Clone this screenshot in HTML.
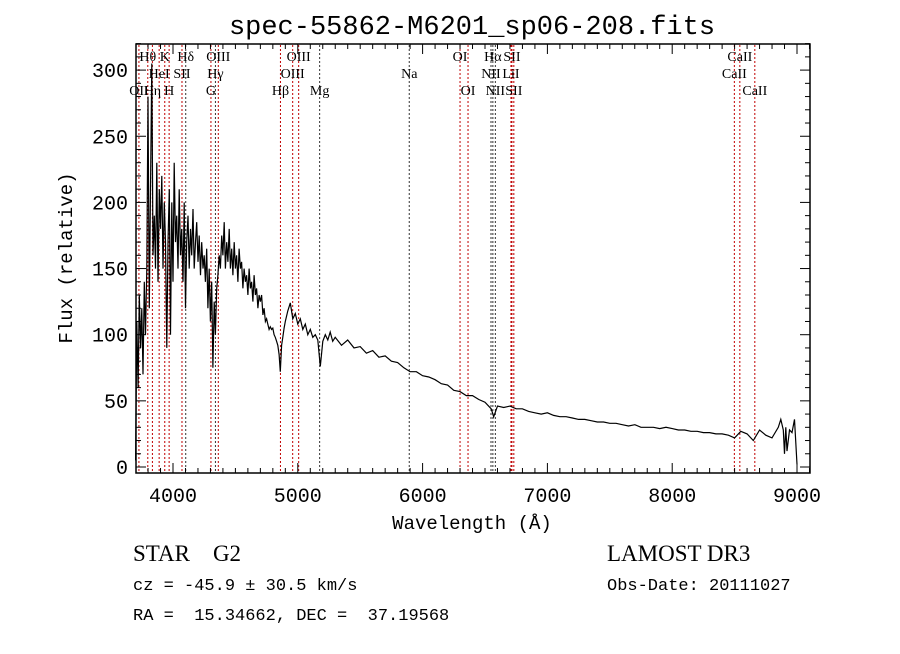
<!DOCTYPE html>
<html><head><meta charset="utf-8">
<style>
body{margin:0;background:#fff;}
svg text{font-family:"Liberation Mono",monospace;fill:#000;white-space:pre;}
.lbl{font-family:"Liberation Serif",serif;font-size:14px;}
</style></head>
<body>
<svg id="chart" width="900" height="649" viewBox="0 0 900 649" xmlns="http://www.w3.org/2000/svg" xml:space="preserve">
<rect width="900" height="649" fill="#fff"/>
<text x="472" y="34" font-size="27" text-anchor="middle">spec-55862-M6201_sp06-208.fits</text>
<g id="lines"></g>
<g id="labels"></g>
<path id="spec" fill="none" stroke="#000" stroke-width="1.2"/>
<rect x="136" y="44" width="674" height="429" fill="none" stroke="#000" stroke-width="1.5"/>
<g id="axes"></g>
<text x="472" y="529" font-size="19" text-anchor="middle">Wavelength (Å)</text>
<text transform="translate(72,258) rotate(-90)" font-size="19" text-anchor="middle">Flux (relative)</text>
<text x="133" y="561" font-size="23" style="font-family:'Liberation Serif',serif">STAR    G2</text>
<text x="607" y="561" font-size="23" style="font-family:'Liberation Serif',serif">LAMOST DR3</text>
<text x="133" y="590" font-size="17">cz = -45.9 ± 30.5 km/s</text>
<text x="607" y="590" font-size="17">Obs-Date: 20111027</text>
<text x="133" y="620" font-size="17">RA =  15.34662, DEC =  37.19568</text>
</svg>
<script>
const waves=[3700,3710,3720,3730,3740,3750,3760,3770,3780,3790,
3800,3810,3820,3830,3840,3850,3860,3870,3880,3890,
3900,3910,3920,3930,3940,3950,3960,3970,3980,3990,
4000,4010,4020,4030,4040,4050,4060,4070,4080,4090,
4100,4110,4120,4130,4140,4150,4160,4170,4180,4190,
4200,4210,4220,4230,4240,4250,4260,4270,4280,4290,
4300,4310,4320,4330,4340,4350,4360,4370,4380,4390,
4400,4410,4420,4430,4440,4450,4460,4470,4480,4490,
4500,4510,4520,4530,4540,4550,4560,4570,4580,4590,
4600,4610,4620,4630,4640,4650,4660,4670,4680,4690,
4700,4710,4720,4730,4740,4750,4760,4770,4780,4790,
4800,4810,4820,4830,4840,4850,4860,4870,4880,4890,
4900,4920,4940,4960,4980,5000,5020,5040,5060,5080,5100,5120,5140,5160,5180,5200,5220,5240,5260,5280,5300,
5350,5400,5450,5500,5550,5600,5650,5700,5750,5800,5850,5900,5950,6000,6050,6100,6150,6200,6250,6300,6350,6400,6450,6500,6550,6570,6600,6650,6700,6750,6800,6850,6900,6950,7000,7050,7100,7150,7200,7250,7300,7350,7400,7450,7500,7550,7600,7650,7700,7750,7800,7850,7900,7950,8000,8050,8100,8150,8200,8250,8300,8350,8400,8450,8500,8550,8600,8650,8700,8750,8800,8850,8870,8890,8900,8910,8920,8940,8960,8980,9000];
const fluxes=[5,110,60,130,90,120,70,140,100,150,
280,120,210,305,160,190,150,230,140,210,
180,220,150,200,170,90,170,210,100,200,
140,230,170,190,150,210,160,180,140,200,
120,170,190,150,180,160,195,150,170,185,
155,175,145,170,150,160,140,165,120,150,
110,140,75,125,100,135,145,160,150,175,
160,185,150,170,155,180,150,165,145,170,
150,160,140,165,150,155,135,150,140,145,
130,150,135,140,125,145,130,135,120,130,
125,130,115,120,110,112,108,104,106,104,
105,100,98,95,92,85,72,92,98,105,
110,118,124,112,116,108,112,104,108,100,104,98,100,96,76,95,100,96,102,95,98,
92,96,90,91,86,88,83,84,80,79,75,72,72,69,68,66,63,62,58,57,54,54,51,49,44,38,46,45,46,44,44,42,41,40,41,39,38,38,37,36,36,35,34,34,33,33,32,31,32,30,30,30,29,30,29,28,28,27,27,26,26,25,25,24,22,27,25,20,28,24,22,30,36,28,10,30,12,28,26,36,2];
const xTicks=[4000,5000,6000,7000,8000,9000];
const yTicks=[0,50,100,150,200,250,300];
const lineWaves=[3727,3798,3835,3889,3934,3969,4072,4102,4304,4340,4363,4861,4959,5007,5175,5893,6300,6364,6548,6563,6583,6708,6716,6731,8498,8542,8662];
const lineNames=["OII","Hθ","Hη","HeI","K","H","SII","Hδ","G","Hγ","OIII","Hβ","OIII","OIII","Mg","Na","OI","OI","NII","Hα","NII","LiI","SII","SII","CaII","CaII","CaII"];
const lineRows=[2,0,2,1,0,2,1,0,2,1,0,2,1,0,2,1,0,2,1,0,2,1,0,2,1,0,2];
const lineBlack=[0,0,0,0,0,0,0,1,0,1,0,0,0,0,1,1,0,0,1,1,1,0,0,0,0,0,0];

const X=w=>173+(w-4000)*0.1248;
const Y=v=>467-v*1.323;
const NS="http://www.w3.org/2000/svg";
const clamp=y=>Math.max(44,Math.min(473,y));

let d="";
for(let i=0;i<waves.length;i++){d+=(i?"L":"M")+X(waves[i]).toFixed(1)+","+clamp(Y(fluxes[i])).toFixed(1);}
document.getElementById("spec").setAttribute("d",d);

const lg=document.getElementById("lines"),lb=document.getElementById("labels");
const rowY=[61,78,95];
for(let i=0;i<lineWaves.length;i++){
  const l=document.createElementNS(NS,"line");
  
  
  const x=X(lineWaves[i]);
  l.setAttribute("x1",x);l.setAttribute("x2",x);l.setAttribute("y1",45);l.setAttribute("y2",472);
  l.setAttribute("stroke",lineBlack[i]?"#333":"#c00000");l.setAttribute("stroke-width","1");l.setAttribute("stroke-dasharray","2,2");
  lg.appendChild(l);
  const t=document.createElementNS(NS,"text");
  
  
  t.setAttribute("x",x);t.setAttribute("y",rowY[lineRows[i]]);t.setAttribute("text-anchor","middle");t.setAttribute("class","lbl");
  t.textContent=lineNames[i];lb.appendChild(t);
}
const ax=document.getElementById("axes");
function mk(tag,attrs){const e=document.createElementNS(NS,tag);for(const k in attrs)e.setAttribute(k,attrs[k]);ax.appendChild(e);return e;}
for(let w=3800;w<=9100;w+=100){
  const big=w%1000===0, x=X(w);
  const a=mk("line",{x1:x,x2:x,y1:473,y2:473-(big?10:5),stroke:"#000"});
  
  
  const b=mk("line",{x1:x,x2:x,y1:44,y2:44+(big?10:5),stroke:"#000"});
  
  
}
xTicks.forEach(w=>{
  const t=mk("text",{x:X(w),y:502,"font-size":20,"text-anchor":"middle"});
  
  
  t.textContent=w;
});
for(let v=0;v<=320;v+=10){
  const big=v%50===0,y=Y(v);
  const a=mk("line",{x1:136,x2:136+(big?10:5),y1:y,y2:y,stroke:"#000"});
  
  
  const b=mk("line",{x1:810,x2:810-(big?10:5),y1:y,y2:y,stroke:"#000"});
  
  
}
yTicks.forEach(v=>{
  const t=mk("text",{x:128,y:Y(v)+7,"font-size":20,"text-anchor":"end"});
  
  
  t.textContent=v;
});
</script>
</body></html>
